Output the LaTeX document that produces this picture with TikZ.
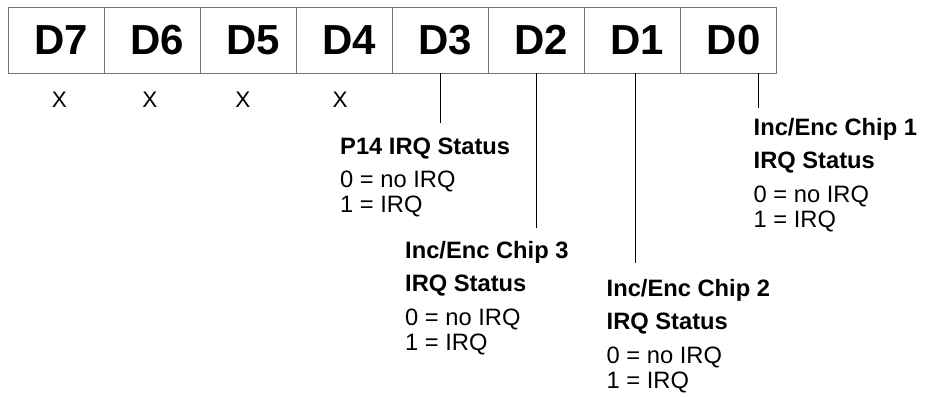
\documentclass[tikz,border=0pt]{standalone}
\usepackage{fontspec}
\setmainfont{Liberation Sans}
\usepackage{tikz}
\usetikzlibrary{positioning}

\tikzset{
  bitcell/.style={draw=black!55, line width=1pt, outer sep=0pt,
    minimum width=96.1pt, minimum height=66pt, inner ysep=0pt,
    inner xsep=26pt, text width=44.1pt, align=left,
    font=\fontsize{42}{42}\selectfont\bfseries},
  note/.style={anchor=base west, align=left, inner sep=0pt,
    font=\fontsize{23.7}{24.6}\selectfont},
  xmark/.style={inner sep=0pt, font=\fontsize{22.5}{22.5}\selectfont},
  wire/.style={draw=black, line width=1pt}
}

\begin{document}
\begin{tikzpicture}[x=1pt, y=-1pt]

  \useasboundingbox (0,0) rectangle (926,397);

  \newcommand\XROW{100}
  \newcommand\GAP{9pt}

  % the eight bits of the register
  \node[bitcell] (d7) at (56.05,40) {D7};
  \node[bitcell, right=0pt of d7] (d6) {D6};
  \node[bitcell, right=0pt of d6] (d5) {D5};
  \node[bitcell, right=0pt of d5] (d4) {D4};
  \node[bitcell, right=0pt of d4] (d3) {D3};
  \node[bitcell, right=0pt of d3] (d2) {D2};
  \node[bitcell, right=0pt of d2] (d1) {D1};
  \node[bitcell, right=0pt of d1] (d0) {D0};

  % unused bits
  \node[xmark] (x7) at (59.5,\XROW) {X};
  \node[xmark] (x6) at (150,\XROW) {X};
  \node[xmark] (x5) at (243,\XROW) {X};
  \node[xmark] (x4) at (340,\XROW) {X};

  % base is the last line here
  \node[note] (p14) at (340,212.3)
  {\bfseries P14 IRQ Status\\[\GAP]
    0 = no IRQ\\1 = IRQ};
  \node[note] (chip3) at (405,350)
  {\bfseries Inc/Enc Chip 3\\[\GAP]\bfseries IRQ Status\\[\GAP]
    0 = no IRQ\\1 = IRQ};
  \node[note] (chip2) at (606.5,388)
  {\bfseries Inc/Enc Chip 2\\[\GAP]\bfseries IRQ Status\\[\GAP]
    0 = no IRQ\\1 = IRQ};
  \node[note] (chip1) at (753.5,227)
  {\bfseries Inc/Enc Chip 1\\[\GAP]\bfseries IRQ Status\\[\GAP]
    0 = no IRQ\\1 = IRQ};

  \draw[wire, shorten >=14pt] (d3.south) -- (d3.south |- p14.north);
  \draw[wire, shorten >=13pt] (d2.south) -- (d2.south |- chip3.north);
  \draw[wire, shorten >=16pt] ([xshift=3pt]d1.south)
  -- ([xshift=3pt]d1.south |- chip2.north);
  \draw[wire, shorten >=10pt] ([xshift=4.5pt]chip1.north west |- d0.south)
  -- ([xshift=4.5pt]chip1.north west);

\end{tikzpicture}
\end{document}
